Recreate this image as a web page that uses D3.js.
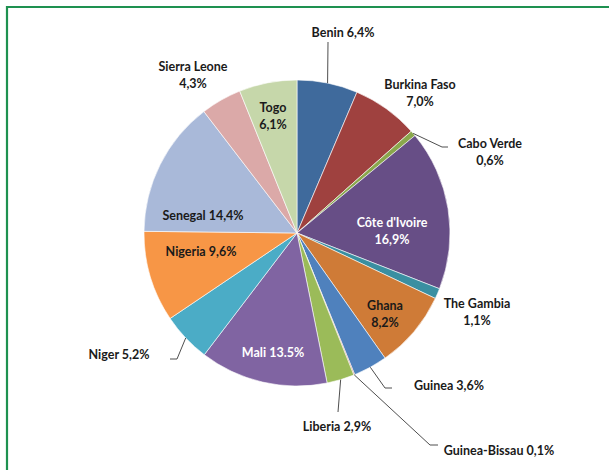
<!DOCTYPE html>
<html>
<head>
<meta charset="utf-8">
<script src="https://cdn.jsdelivr.net/npm/d3@7/dist/d3.min.js"></script>
<style>
  html, body { margin: 0; padding: 0; background: #fff; }
  svg { display: block; }
  text { font-family: Lato, "Open Sans", sans-serif; font-weight: bold; font-size: 12.5px; }
</style>
</head>
<body>
<svg id="chart" width="609" height="470"></svg>
<script>
// Country shares (%) in clockwise order starting at 12 o'clock
const countries = ["Benin", "Burkina Faso", "Cabo Verde", "Côte d'Ivoire", "The Gambia",
  "Ghana", "Guinea", "Guinea-Bissau", "Liberia", "Mali", "Niger", "Nigeria",
  "Senegal", "Sierra Leone", "Togo"];
const shares = [6.4, 7.0, 0.6, 16.9, 1.1, 8.2, 3.6, 0.1, 2.9, 13.5, 5.2, 9.6, 14.4, 4.3, 6.1];
// Value text as printed on each label
const shareText = ["6,4%", "7,0%", "0,6%", "16,9%", "1,1%", "8,2%", "3,6%", "0,1%", "2,9%",
  "13.5%", "5,2%", "9,6%", "14,4%", "4,3%", "6,1%"];
const sliceColors = ["#3f6a9c", "#9f413f", "#8aa74c", "#674e86", "#3a8fa1", "#cf7b37",
  "#4f81bd", "#c0504d", "#9bbb59", "#8064a2", "#4bacc6", "#f79646", "#a9b9d9", "#dba9a8", "#c6d7aa"];

// Label layout: lines of text, centre x, first-line centre y, text colour, leader path
const labelLayout = [
  { lines: ["Benin 6,4%"], x: 343, y: 32, fill: "#1a1a1a", leader: [[328, 42]] },
  { lines: ["Burkina Faso", "7,0%"], x: 420, y: 84, fill: "#1a1a1a" },
  { lines: ["Cabo Verde", "0,6%"], x: 490, y: 143, fill: "#1a1a1a", leader: [[442, 147], [448, 147]] },
  { lines: ["Côte d'Ivoire", "16,9%"], x: 392, y: 222, fill: "#ffffff" },
  { lines: ["The Gambia", "1,1%"], x: 477, y: 303, fill: "#1a1a1a" },
  { lines: ["Ghana", "8,2%"], x: 385, y: 305, fill: "#1a1a1a" },
  { lines: ["Guinea 3,6%"], x: 449, y: 385, fill: "#1a1a1a", leader: [[385, 388], [392, 388]] },
  { lines: ["Guinea-Bissau 0,1%"], x: 499, y: 450, fill: "#1a1a1a", leader: [[430, 445], [438, 445]] },
  { lines: ["Liberia 2,9%"], x: 337, y: 426, fill: "#1a1a1a", leader: [[338, 412]] },
  { lines: ["Mali 13.5%"], x: 273, y: 352, fill: "#ffffff" },
  { lines: ["Niger 5,2%"], x: 119, y: 354, fill: "#1a1a1a", leader: [[177, 359], [170, 359]] },
  { lines: ["Nigeria 9,6%"], x: 201, y: 251, fill: "#1a1a1a" },
  { lines: ["Senegal 14,4%"], x: 203, y: 215, fill: "#1a1a1a" },
  { lines: ["Sierra Leone", "4,3%"], x: 193, y: 66, fill: "#1a1a1a" },
  { lines: ["Togo", "6,1%"], x: 273, y: 107, fill: "#1a1a1a" }
];

const svg = d3.select("#chart");
const cx = 297, cy = 233, radius = 153;
const lineGap = 17;

// Frame
svg.append("path")
  .attr("d", "M7,470 L7,7 L609,7")
  .attr("fill", "none")
  .attr("stroke", "#1e9150")
  .attr("stroke-width", 2.2);

const data = countries.map((c, i) => ({ name: c, value: shares[i], i }));
const pie = d3.pie().sort(null).value(d => d.value);
const arcs = pie(data);
const arc = d3.arc().innerRadius(0).outerRadius(radius);
const color = d3.scaleOrdinal().domain(countries).range(sliceColors);

const g = svg.append("g").attr("transform", `translate(${cx},${cy})`);

g.selectAll("path.slice")
  .data(arcs)
  .enter().append("path")
  .attr("class", "slice")
  .attr("d", arc)
  .attr("fill", d => color(d.data.name))
  .attr("stroke", "#ffffff")
  .attr("stroke-width", 0.6)
  .attr("stroke-linejoin", "round");

// Leader lines start on the rim at each slice's mid angle
const rim = d3.arc().innerRadius(radius).outerRadius(radius);
arcs.forEach((a, i) => {
  const lay = labelLayout[i];
  if (!lay.leader) return;
  const [px, py] = rim.centroid(a);
  const pts = [[cx + px, cy + py]].concat(lay.leader);
  svg.append("path")
    .attr("d", d3.line()(pts))
    .attr("fill", "none")
    .attr("stroke", "#3a3a3a")
    .attr("stroke-width", 0.9);
});

// Labels
arcs.forEach((a, i) => {
  const lay = labelLayout[i];
  const t = svg.append("text")
    .attr("text-anchor", "middle")
    .attr("fill", lay.fill);
  lay.lines.forEach((ln, k) => {
    t.append("tspan")
      .attr("x", lay.x)
      .attr("y", lay.y + k * lineGap)
      .attr("dy", "0.36em")
      .text(ln);
  });
});
</script>
</body>
</html>
